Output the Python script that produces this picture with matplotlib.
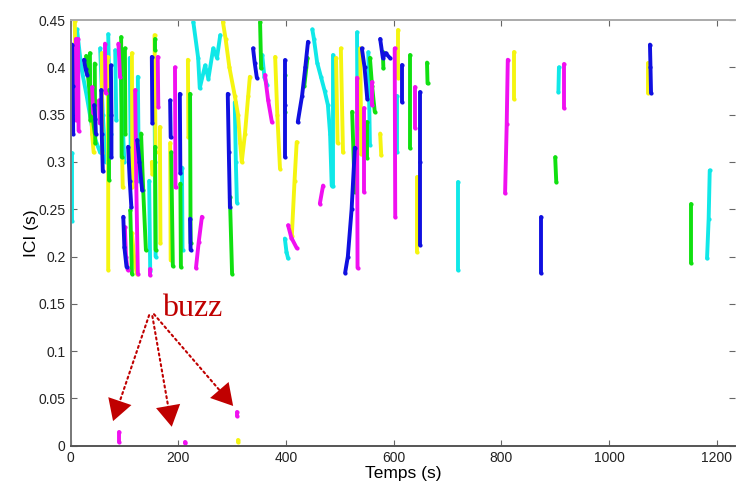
import matplotlib
matplotlib.use("Agg")
import matplotlib.pyplot as plt

plt.rcParams["font.family"] = ["Liberation Sans", "DejaVu Sans"]

# click trains: (temps s, ICI s)
blue_tracks = [
    ([3, 4, 5], [0.424, 0.38, 0.33]),
    ([25, 28, 31], [0.408, 0.398, 0.392]),
    ([44, 46, 47], [0.36, 0.345, 0.33]),
    ([57, 58, 60], [0.376, 0.33, 0.29]),
    ([75, 76, 76], [0.402, 0.35, 0.305]),
    ([98, 100, 104], [0.242, 0.21, 0.189]),
    ([107, 110, 113], [0.316, 0.28, 0.252]),
    ([124, 128, 133], [0.323, 0.3, 0.27]),
    ([151, 152], [0.411, 0.341]),
    ([185, 186], [0.365, 0.326]),
    ([203, 204], [0.372, 0.288]),
    ([222, 223], [0.24, 0.207]),
    ([292, 294, 296], [0.372, 0.31, 0.252]),
    ([339, 342, 346], [0.42, 0.405, 0.389]),
    ([398, 398, 398], [0.408, 0.36, 0.305]),
    ([422, 430, 436, 441], [0.342, 0.37, 0.4, 0.427]),
    ([510, 515, 522, 528], [0.183, 0.2, 0.25, 0.315]),
    ([541, 546, 551], [0.42, 0.4, 0.367]),
    ([575, 580, 585, 593], [0.43, 0.41, 0.415, 0.41]),
    ([615, 615], [0.402, 0.363]),
    ([649, 649, 649], [0.374, 0.3, 0.212]),
    ([873, 873], [0.242, 0.183]),
    ([1076, 1077, 1078], [0.424, 0.4, 0.373]),
]

cyan_tracks = [
    ([3, 3], [0.309, 0.238]),
    ([12, 20, 30, 42, 55], [0.44, 0.4, 0.37, 0.33, 0.31]),
    ([55, 60, 65], [0.42, 0.35, 0.3]),
    ([70, 72, 75], [0.435, 0.38, 0.33]),
    ([83, 85], [0.418, 0.344]),
    ([92, 96, 100], [0.41, 0.35, 0.3]),
    ([110, 112], [0.41, 0.3]),
    ([125, 127], [0.39, 0.28]),
    ([146, 148], [0.28, 0.185]),
    ([156, 157, 158], [0.36, 0.3, 0.2]),
    ([207, 208], [0.294, 0.207]),
    ([228, 237, 240, 250, 256, 265, 272, 278], [0.448, 0.41, 0.378, 0.402, 0.388, 0.42, 0.41, 0.434]),
    ([305, 307, 309], [0.363, 0.3, 0.257]),
    ([356, 360, 365], [0.413, 0.39, 0.381]),
    ([398, 401, 404], [0.219, 0.205, 0.198]),
    ([449, 452, 458, 465, 472, 478, 482, 485], [0.44, 0.43, 0.405, 0.39, 0.375, 0.36, 0.33, 0.275]),
    ([488, 488], [0.413, 0.275]),
    ([532, 533], [0.437, 0.336]),
    ([553, 556], [0.416, 0.318]),
    ([606, 606], [0.37, 0.31]),
    ([720, 720], [0.279, 0.186]),
    ([907, 906], [0.40, 0.374]),
    ([1187, 1185, 1182], [0.291, 0.24, 0.198]),
]

magenta_tracks = [
    ([10, 11], [0.43, 0.344]),
    ([14, 15], [0.43, 0.333]),
    ([40, 42], [0.379, 0.352]),
    ([53, 54], [0.365, 0.341]),
    ([64, 65], [0.425, 0.373]),
    ([89, 92], [0.425, 0.39]),
    ([101, 103, 106], [0.231, 0.2, 0.186]),
    ([120, 122, 125], [0.376, 0.28, 0.182]),
    ([148, 148], [0.187, 0.18]),
    ([162, 163], [0.411, 0.358]),
    ([194, 195], [0.4, 0.273]),
    ([244, 238, 233], [0.242, 0.215, 0.188]),
    ([361, 367, 374], [0.392, 0.365, 0.342]),
    ([404, 410, 420], [0.233, 0.22, 0.209]),
    ([463, 469], [0.256, 0.275]),
    ([532, 533], [0.389, 0.188]),
    ([545, 545], [0.357, 0.268]),
    ([560, 560], [0.384, 0.36]),
    ([602, 603], [0.42, 0.242]),
    ([640, 640], [0.379, 0.336]),
    ([812, 810, 807], [0.408, 0.34, 0.267]),
    ([916, 916], [0.404, 0.357]),
    # buzz
    ([90, 90], [0.015, 0.004]),
    ([213, 213], [0.004, 0.003]),
    ([310, 310], [0.036, 0.031]),
]

yellow_tracks = [
    ([8, 10], [0.449, 0.355]),
    ([58, 59], [0.415, 0.309]),
    ([69, 70, 70], [0.411, 0.3, 0.186]),
    ([38, 40, 43], [0.37, 0.33, 0.31]),
    ([114, 115], [0.415, 0.273]),
    ([96, 97], [0.302, 0.273]),
    ([114, 118, 123], [0.225, 0.2, 0.182]),
    ([151, 152], [0.3, 0.287]),
    ([156, 158], [0.434, 0.31]),
    ([166, 167], [0.337, 0.214]),
    ([185, 186], [0.32, 0.196]),
    ([218, 219], [0.408, 0.326]),
    ([283, 288, 295, 305, 311, 315, 318, 324, 330, 333],
     [0.448, 0.43, 0.4, 0.37, 0.35, 0.32, 0.3, 0.33, 0.37, 0.39]),
    ([380, 384, 389], [0.411, 0.35, 0.293]),
    ([411, 416, 420], [0.222, 0.28, 0.321]),
    ([493, 496], [0.41, 0.32]),
    ([502, 506], [0.42, 0.31]),
    ([538, 540], [0.42, 0.308]),
    ([575, 577], [0.33, 0.307]),
    ([608, 608], [0.439, 0.389]),
    ([643, 643], [0.284, 0.205]),
    ([823, 823], [0.416, 0.367]),
    ([1072, 1072], [0.405, 0.373]),
    # buzz
    ([311, 311], [0.006, 0.004]),
]

green_tracks = [
    ([29, 36, 45], [0.412, 0.37, 0.33]),
    ([36, 37], [0.415, 0.344]),
    ([45, 46], [0.404, 0.32]),
    ([72, 72], [0.376, 0.281]),
    ([94, 95], [0.432, 0.305]),
    ([101, 102], [0.42, 0.33]),
    ([111, 114], [0.249, 0.182]),
    ([131, 135, 140], [0.33, 0.27, 0.207]),
    ([157, 157], [0.43, 0.418]),
    ([157, 158], [0.316, 0.207]),
    ([187, 190], [0.31, 0.19]),
    ([204, 205], [0.277, 0.189]),
    ([222, 223], [0.372, 0.214]),
    ([296, 300], [0.263, 0.182]),
    ([352, 354], [0.448, 0.399]),
    ([398, 398], [0.392, 0.353]),
    ([434, 440], [0.38, 0.41]),
    ([523, 526, 528], [0.353, 0.3, 0.268]),
    ([551, 551], [0.342, 0.304]),
    ([556, 560, 565], [0.41, 0.38, 0.353]),
    ([580, 581], [0.416, 0.399]),
    ([630, 630], [0.413, 0.315]),
    ([662, 663], [0.405, 0.383]),
    ([900, 902], [0.305, 0.279]),
    ([1152, 1152], [0.256, 0.193]),
]

series = [
    (cyan_tracks, "#10e8e8"),
    (yellow_tracks, "#f5f510"),
    (green_tracks, "#10e010"),
    (magenta_tracks, "#f010f0"),
    (blue_tracks, "#1010e0"),
]

yticks = [0, 0.05, 0.1, 0.15, 0.2, 0.25, 0.3, 0.35, 0.4, 0.45]
ytick_labels = ["0", "0.05", "0.1", "0.15", "0.2", "0.25", "0.3", "0.35", "0.4", "0.45"]
xticks = [0, 200, 400, 600, 800, 1000, 1200]

fig = plt.figure(figsize=(7.36, 4.87), dpi=100)
ax = fig.add_axes([0.0958, 0.0848, 0.9029, 0.8741])

for tracks, col in series:
    for t, ici in tracks:
        ax.plot(t, ici, color=col, linewidth=2.8, marker=".", markersize=4,
                solid_capstyle="round")

ax.set_xlim(0, 1234)
ax.set_ylim(0, 0.45)
ax.set_xticks(xticks)
ax.set_yticks(yticks)
ax.set_yticklabels(ytick_labels)
ax.tick_params(direction="in", length=4, top=True, right=True,
               labelsize=10, colors="#222222")
ax.tick_params(axis="both", which="both", color="#666666")
for side, c in [("left", "#777777"), ("bottom", "#555555"), ("top", "#aaaaaa")]:
    ax.spines[side].set_color(c)
    ax.spines[side].set_linewidth(1.4)
ax.spines["right"].set_visible(False)

ax.set_xlabel("Temps (s)", fontsize=12.5, labelpad=1)
ax.set_ylabel("ICI (s)", fontsize=12.5, labelpad=0)

# buzz annotation
red = "#c00000"
ax.text(170, 0.137, "buzz", color=red, fontsize=23, family="Liberation Serif",
        va="baseline")
for start, tip in [((146, 0.138), (79, 0.026)),
                   ((152, 0.137), (188, 0.020)),
                   ((155, 0.139), (302, 0.042))]:
    # dotted shaft
    ax.annotate("", xy=tip, xytext=start,
                arrowprops=dict(arrowstyle="-", color=red, lw=1.5,
                                linestyle=(0, (1, 1.6)),
                                shrinkA=0, shrinkB=11))
    # solid head
    ax.annotate("", xy=tip, xytext=start,
                arrowprops=dict(arrowstyle="-|>,head_length=0.95,head_width=0.55",
                                color=red, lw=0, mutation_scale=16,
                                shrinkA=0, shrinkB=0))

fig.savefig("out.png", dpi=100)
